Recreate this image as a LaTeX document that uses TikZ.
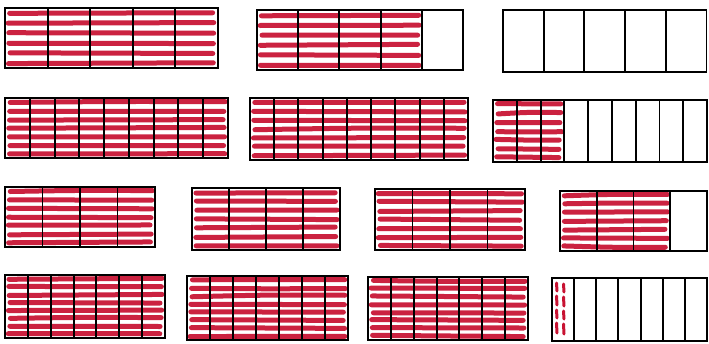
\documentclass[tikz,border=0pt]{standalone}
\definecolor{strokered}{RGB}{200,18,50}
\tikzset{
  barline/.style={draw=black, line width=1.9pt, line join=miter},
  redstroke/.style={draw=strokered, line width=5pt, line cap=round, opacity=0.93},
  vmark/.style={draw=strokered, line width=3pt, line cap=round}
}
\newcommand\fracbar[7]{%
  \pgfmathsetmacro\bw{(#3-#1)/#5}%
  \ifnum#6>0
    \pgfmathsetmacro\xe{#1+#6*\bw}%
    \foreach \i in {1,...,#7}{%
      \pgfmathsetmacro\yy{#2+(#4-#2)*(\i-0.5)/#7}%
      \pgfmathsetmacro\ja{3+2.5*rnd}%
      \pgfmathsetmacro\jb{2.5+3*rnd}%
      \pgfmathsetmacro\ra{0.8*rand}%
      \pgfmathsetmacro\rb{0.8*rand}%
      \draw[redstroke] (#1+\ja,\yy+\ra) .. controls ({#1+0.5*(\xe-#1)},\yy+\rb*1.5) .. (\xe-\jb,\yy+\rb);
    }%
  \fi
  \draw[barline] (#1,#2) rectangle (#3,#4);
  \pgfmathtruncatemacro\nm{#5-1}%
  \foreach \j in {1,...,\nm}{%
    \draw[barline] ({#1+\j*\bw},#2) -- ({#1+\j*\bw},#4);
  }%
}
\begin{document}
\begin{tikzpicture}[x=1pt,y=-1pt]
\pgfmathsetseed{11}
\useasboundingbox (0,0) rectangle (709,343);
\fill[white] (0,0) rectangle (709,343);
% row 1: fifths
\fracbar{5}{8}{218}{68}{5}{5}{6}
\fracbar{257}{10}{463}{70}{5}{4}{6}
\fracbar{503}{10}{706.5}{72}{5}{0}{0}
% row 2: ninths
\fracbar{5}{98}{228}{158}{9}{9}{7}
\fracbar{250}{98}{468}{160}{9}{9}{7}
\fracbar{493}{100}{707}{162}{9}{3}{7}
% row 3: quarters
\fracbar{5}{187}{155}{247}{4}{4}{7}
\fracbar{192}{188}{340}{250}{4}{4}{7}
\fracbar{375}{189}{525}{250}{4}{4}{7}
\fracbar{560}{191}{707}{251}{4}{3}{7}
% row 4: sevenths
\fracbar{5}{275}{165}{338}{7}{7}{8}
\fracbar{187}{276}{348}{340}{7}{7}{8}
\fracbar{368}{277}{528}{340}{7}{7}{8}
% last bar: vertical marks in first part
\foreach \yt/\yb in {283/291, 296/305, 310/318, 323/333}{
  \draw[vmark] (556.5,\yt) -- (557,\yb);
  \draw[vmark] (563.5,\yt+1) -- (564,\yb+1);
}
\fracbar{552}{278}{707}{341}{7}{0}{0}
\end{tikzpicture}
\end{document}
